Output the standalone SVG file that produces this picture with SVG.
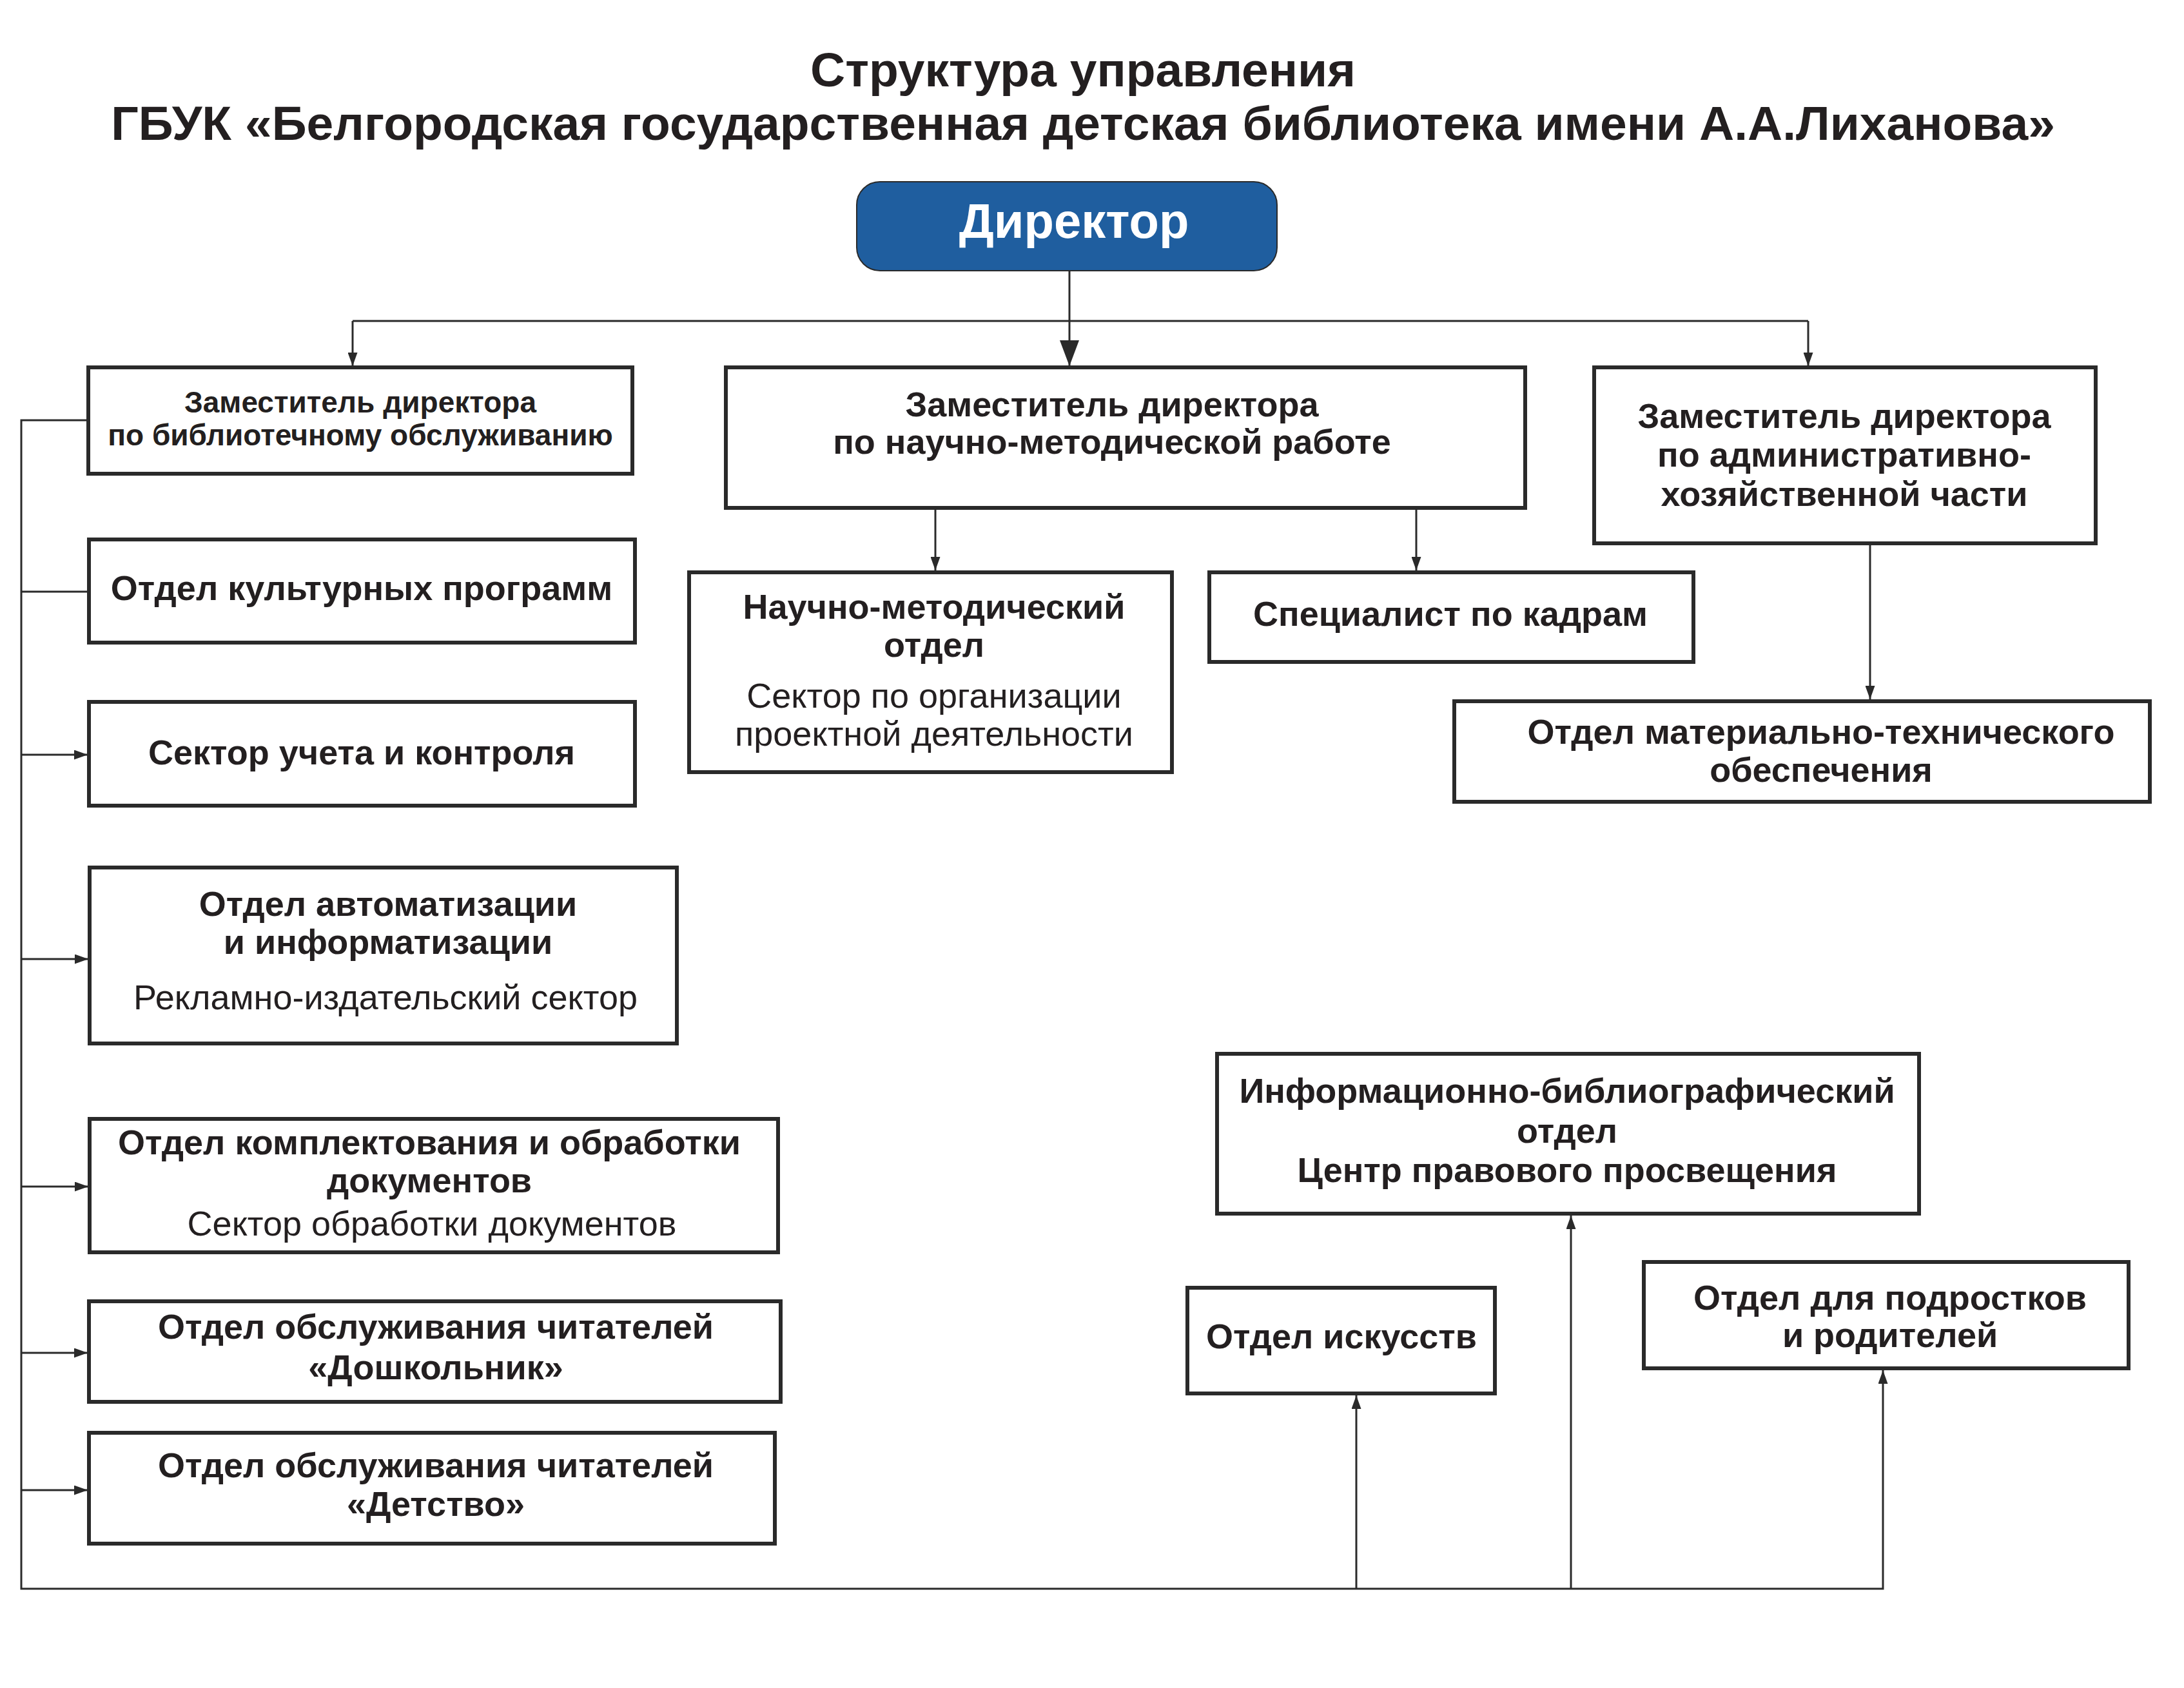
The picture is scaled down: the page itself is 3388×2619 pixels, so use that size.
<svg xmlns="http://www.w3.org/2000/svg" width="3388" height="2619" viewBox="0 0 3388 2619">
<style>
.box{fill:#fff;stroke:#2a2a2a;stroke-width:6}
.t{font-family:"Liberation Sans",Arial,sans-serif;font-size:54px;font-weight:bold;fill:#231f20;text-anchor:middle}
.r{font-weight:normal}
.s{font-size:46px}
.ttl{font-family:"Liberation Sans",Arial,sans-serif;font-size:75px;font-weight:bold;fill:#231f20;text-anchor:middle}
.c{fill:none;stroke:#2a2a2a;stroke-width:3}
</style>
<defs>
<marker id="a" viewBox="0 0 21 15" refX="21" refY="7.5" markerWidth="21" markerHeight="15" markerUnits="userSpaceOnUse" orient="auto"><path d="M0 0L21 7.5L0 15Z" fill="#2a2a2a"/></marker>
<marker id="b" viewBox="0 0 40 30" refX="40" refY="15" markerWidth="40" markerHeight="30" markerUnits="userSpaceOnUse" orient="auto"><path d="M0 0L40 15L0 30Z" fill="#2a2a2a"/></marker>
</defs>
<rect width="3388" height="2619" fill="#fff"/>
<g id="title">
<text class="ttl" x="1680" y="134">Структура управления</text>
<text class="ttl" x="1680" y="217">ГБУК «Белгородская государственная детская библиотека имени А.А.Лиханова»</text>
</g>
<g id="connectors">
<path class="c" d="M1659 420V568" marker-end="url(#b)"/>
<path class="c" d="M547 498H2805"/>
<path class="c" d="M547 498V568" marker-end="url(#a)"/>
<path class="c" d="M2805 498V568" marker-end="url(#a)"/>
<path class="c" d="M1451 788V885" marker-end="url(#a)"/>
<path class="c" d="M2197 788V885" marker-end="url(#a)"/>
<path class="c" d="M2901 843V1085" marker-end="url(#a)"/>
<path class="c" d="M137 652H33V2465H2921V2126" marker-end="url(#a)"/>
<path class="c" d="M33 918H138"/>
<path class="c" d="M33 1171H136" marker-end="url(#a)"/>
<path class="c" d="M33 1488H137" marker-end="url(#a)"/>
<path class="c" d="M33 1841H137" marker-end="url(#a)"/>
<path class="c" d="M33 2099H136" marker-end="url(#a)"/>
<path class="c" d="M33 2312H136" marker-end="url(#a)"/>
<path class="c" d="M2104 2465V2165" marker-end="url(#a)"/>
<path class="c" d="M2437 2465V1886" marker-end="url(#a)"/>
</g>
<g id="director">
<rect x="1329" y="282" width="652" height="138" rx="36" ry="36" fill="#1f5e9f" stroke="#2a2a2a" stroke-width="2"/>
<text class="t" x="1666" y="369" style="font-size:76px;fill:#fff">Директор</text>
</g>
<g id="dep-lib">
<rect class="box" x="137" y="570" width="844" height="165"/>
<text class="t s" x="559" y="640">Заместитель директора</text>
<text class="t s" x="559" y="691">по библиотечному обслуживанию</text>
</g>
<g id="dep-sci">
<rect class="box" x="1126" y="570" width="1240" height="218"/>
<text class="t" x="1725" y="646">Заместитель директора</text>
<text class="t" x="1725" y="704">по научно-методической работе</text>
</g>
<g id="dep-adm">
<rect class="box" x="2473" y="570" width="778" height="273"/>
<text class="t" x="2861" y="664">Заместитель директора</text>
<text class="t" x="2861" y="724">по административно-</text>
<text class="t" x="2861" y="785">хозяйственной части</text>
</g>
<g id="culture">
<rect class="box" x="138" y="837" width="847" height="160"/>
<text class="t" x="561" y="931">Отдел культурных программ</text>
</g>
<g id="control">
<rect class="box" x="138" y="1089" width="847" height="161"/>
<text class="t" x="561" y="1186">Сектор учета и контроля</text>
</g>
<g id="nmo">
<rect class="box" x="1069" y="888" width="749" height="310"/>
<text class="t" x="1449" y="960">Научно-методический</text>
<text class="t" x="1449" y="1019">отдел</text>
<text class="t r" x="1449" y="1098">Сектор по организации</text>
<text class="t r" x="1449" y="1157">проектной деятельности</text>
</g>
<g id="hr">
<rect class="box" x="1876" y="888" width="751" height="139"/>
<text class="t" x="2250" y="971">Специалист по кадрам</text>
</g>
<g id="omto">
<rect class="box" x="2256" y="1088" width="1079" height="156"/>
<text class="t" x="2825" y="1154">Отдел материально-технического</text>
<text class="t" x="2825" y="1213">обеспечения</text>
</g>
<g id="auto">
<rect class="box" x="139" y="1346" width="911" height="273"/>
<text class="t" x="602" y="1421">Отдел автоматизации</text>
<text class="t" x="602" y="1480">и информатизации</text>
<text class="t r" x="598" y="1566">Рекламно-издательский сектор</text>
</g>
<g id="acq">
<rect class="box" x="139" y="1736" width="1068" height="207"/>
<text class="t" x="666" y="1791">Отдел комплектования и обработки</text>
<text class="t" x="666" y="1850">документов</text>
<text class="t r" x="670" y="1917">Сектор обработки документов</text>
</g>
<g id="preschool">
<rect class="box" x="138" y="2019" width="1073" height="156"/>
<text class="t" x="676" y="2077">Отдел обслуживания читателей</text>
<text class="t" x="676" y="2140">«Дошкольник»</text>
</g>
<g id="childhood">
<rect class="box" x="138" y="2223" width="1064" height="172"/>
<text class="t" x="676" y="2292">Отдел обслуживания читателей</text>
<text class="t" x="676" y="2352">«Детство»</text>
</g>
<g id="ibo">
<rect class="box" x="1888" y="1635" width="1089" height="248"/>
<text class="t" x="2431" y="1711">Информационно-библиографический</text>
<text class="t" x="2431" y="1773">отдел</text>
<text class="t" x="2431" y="1834">Центр правового просвещения</text>
</g>
<g id="arts">
<rect class="box" x="1842" y="1998" width="477" height="164"/>
<text class="t" x="2081" y="2092">Отдел искусств</text>
</g>
<g id="teens">
<rect class="box" x="2550" y="1958" width="752" height="165"/>
<text class="t" x="2932" y="2032">Отдел для подростков</text>
<text class="t" x="2932" y="2090">и родителей</text>
</g>
</svg>
